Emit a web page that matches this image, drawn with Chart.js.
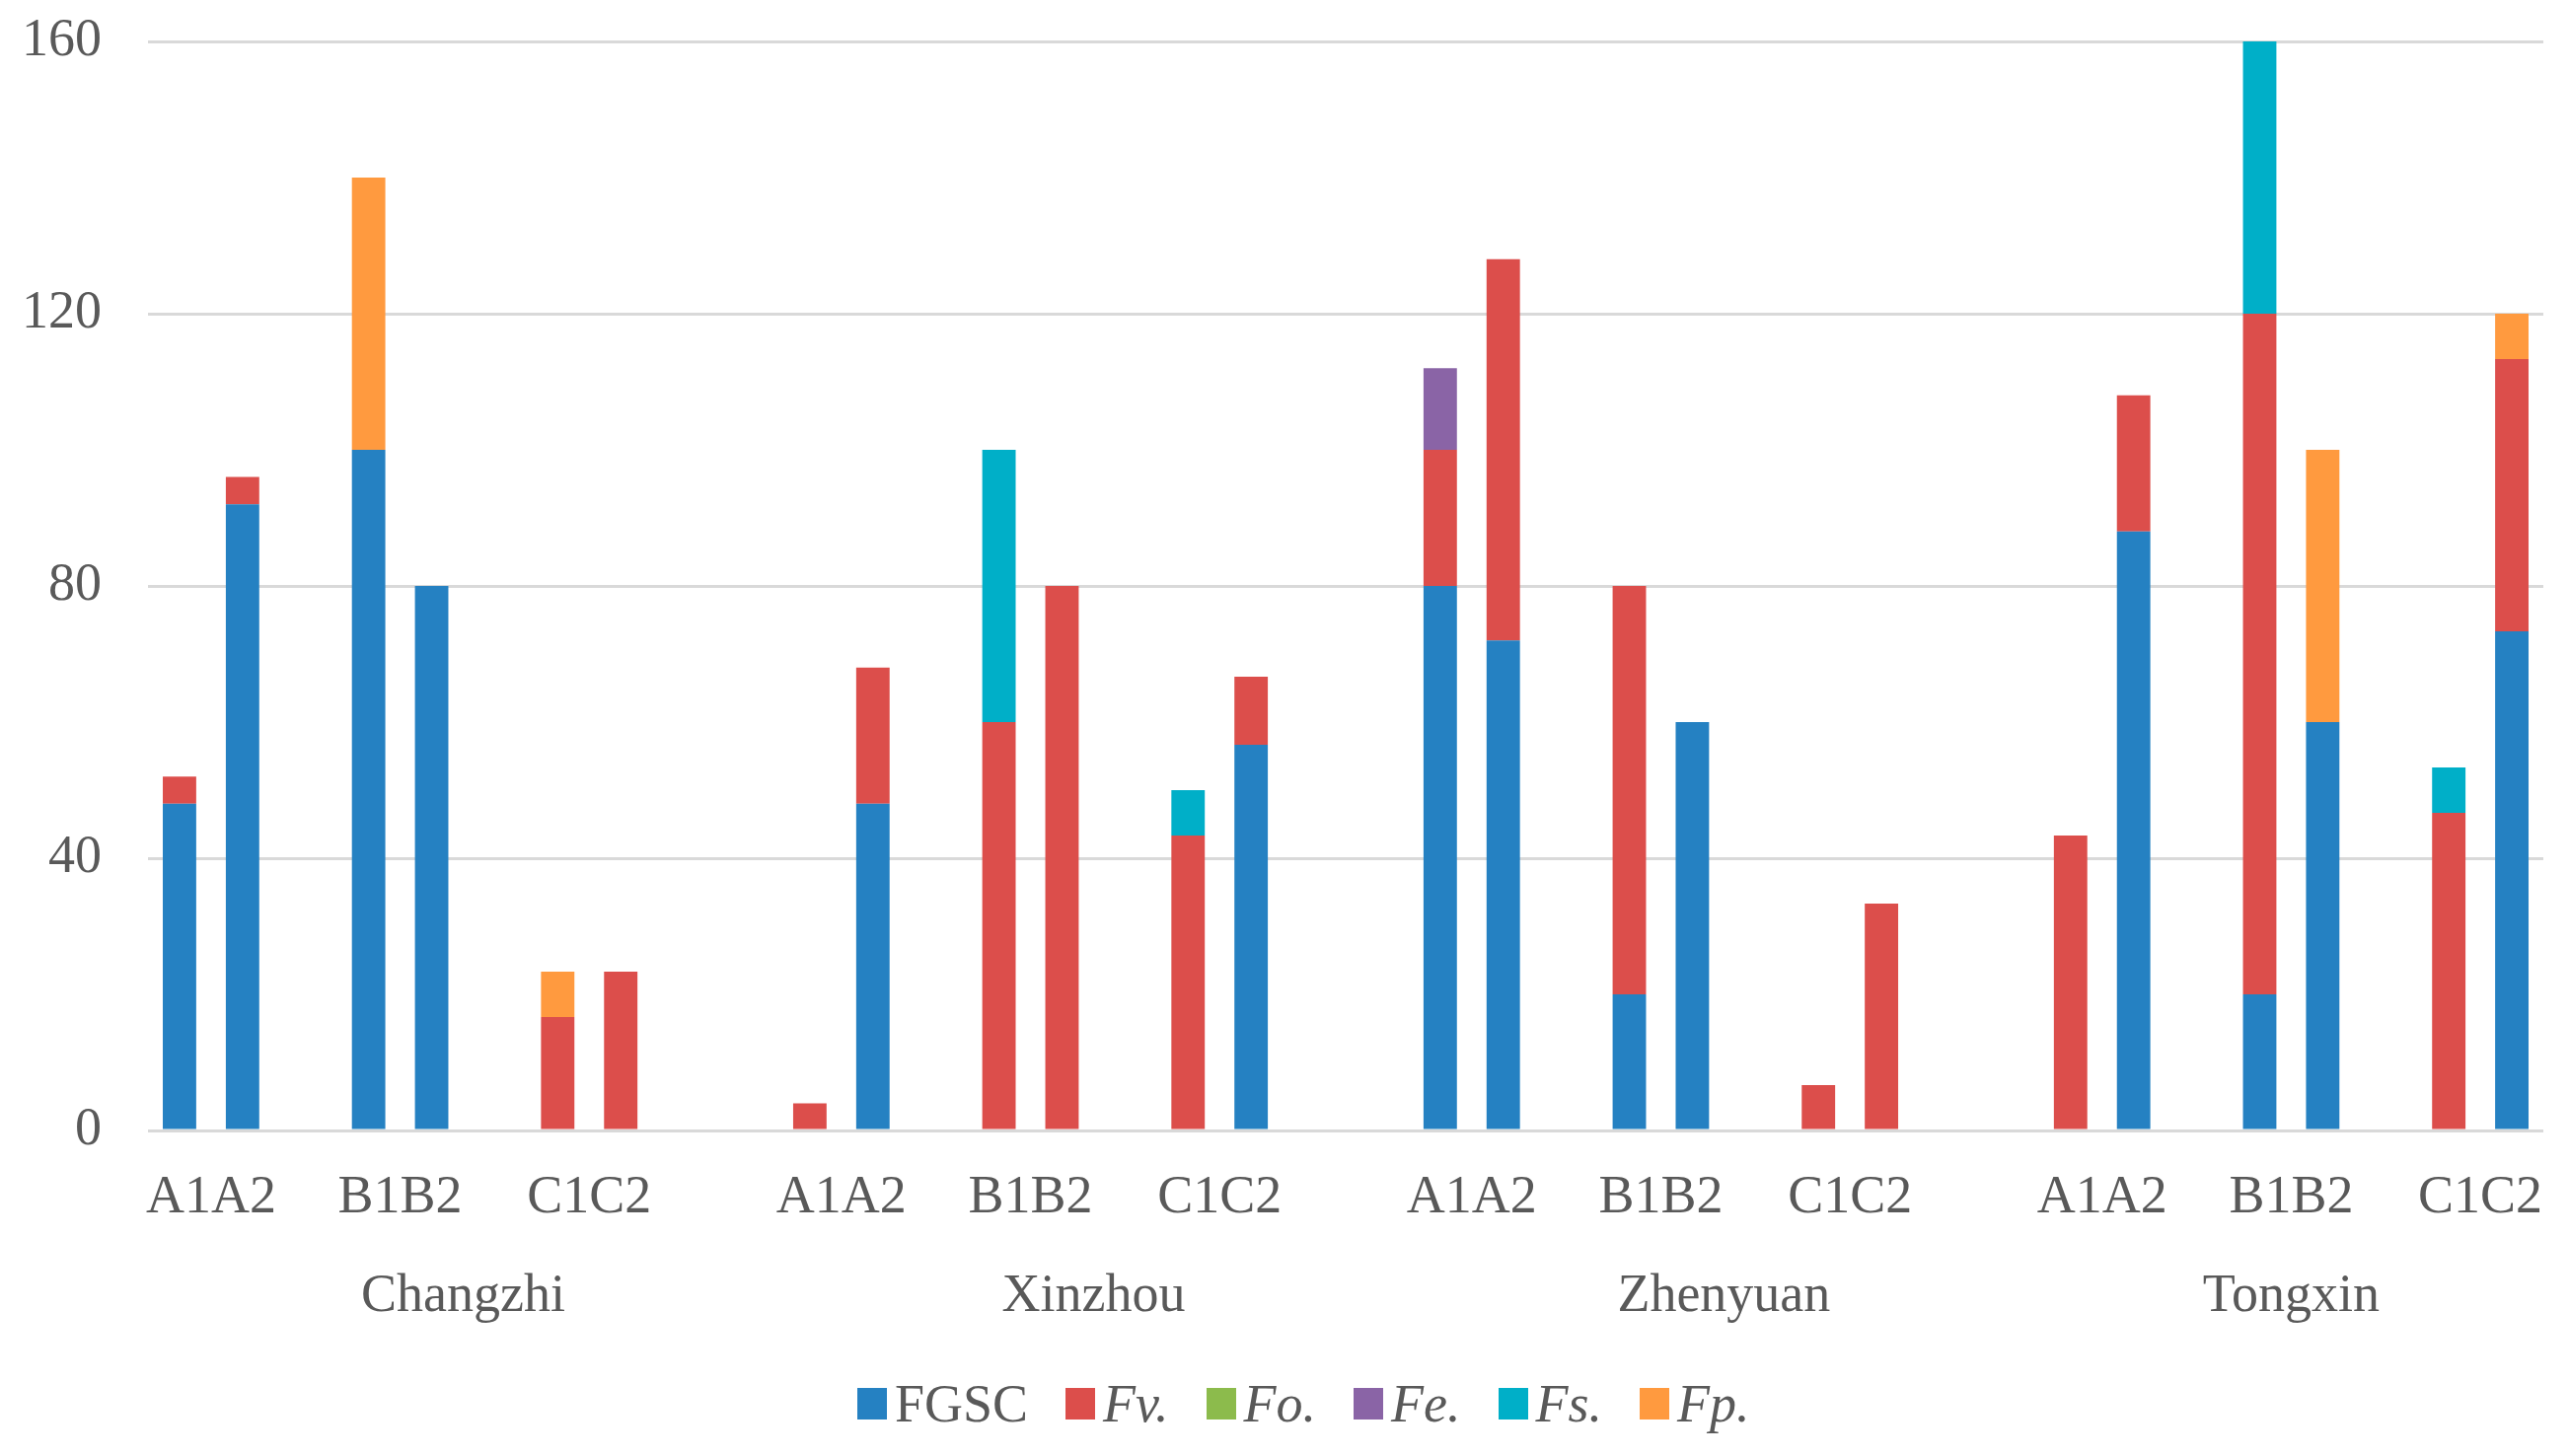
<!DOCTYPE html>
<html>
<head>
<meta charset="utf-8">
<script src="https://cdn.jsdelivr.net/npm/chart.js@4.4.0/dist/chart.umd.min.js"></script>
<style>
  html, body { margin: 0; padding: 0; background: #ffffff; }
  #wrap { position: relative; width: 2604px; height: 1476px; }
  #c { display: block; }
  #legend {
    position: absolute; left: 869px; top: 1396px;
    display: flex; align-items: center;
    font-family: "Liberation Serif", "Times New Roman", serif;
    font-size: 54px; line-height: 1; color: #595959;
  }
  .item { display: flex; align-items: center; margin-right: 38px; }
  .box { width: 30px; height: 32px; margin-right: 8px; }
</style>
</head>
<body>
<div id="wrap">
  <canvas id="c" width="2604" height="1476"></canvas>
  <div id="legend"></div>
</div>
<script>
// ---- data (bar order per location: A1, A2, B1, B2, C1, C2) ----
const locations = ['Changzhi', 'Xinzhou', 'Zhenyuan', 'Tongxin'];
const pairLabels = ['A1A2', 'B1B2', 'C1C2'];
const seriesNames = ['FGSC', 'Fv.', 'Fo.', 'Fe.', 'Fs.', 'Fp.'];
const seriesItalic = [false, true, true, true, true, true];
const seriesColors = ['#2581C2', '#DC4E4B', '#8CBB4C', '#8A64A6', '#00AFC8', '#FF9A3F'];

const FGSC = [48, 92, 100, 80, 0, 0,   0, 48, 0, 0, 0, 56.67,   80, 72, 20, 60, 0, 0,   0, 88, 20, 60, 0, 73.33];
const Fv   = [4, 4, 0, 0, 16.67, 23.33,   4, 20, 60, 80, 43.33, 10,   20, 56, 60, 0, 6.67, 33.33,   43.33, 20, 100, 0, 46.67, 40];
const Fo   = [0, 0, 0, 0, 0, 0,   0, 0, 0, 0, 0, 0,   0, 0, 0, 0, 0, 0,   0, 0, 0, 0, 0, 0];
const Fe   = [0, 0, 0, 0, 0, 0,   0, 0, 0, 0, 0, 0,   12, 0, 0, 0, 0, 0,   0, 0, 0, 0, 0, 0];
const Fs   = [0, 0, 0, 0, 0, 0,   0, 0, 40, 0, 6.67, 0,   0, 0, 0, 0, 0, 0,   0, 0, 40, 0, 6.67, 0];
const Fp   = [0, 0, 40, 0, 6.67, 0,   0, 0, 0, 0, 0, 0,   0, 0, 0, 0, 0, 0,   0, 0, 0, 40, 0, 6.67];
const yTicks = [0, 40, 80, 120, 160];

const seriesValues = [FGSC, Fv, Fo, Fe, Fs, Fp];

// ---- build category slots (bars with blank gap slots between groups) ----
const slots = [];          // bar index or null (gap)
const pairCenters = [];
const locCenters = [];
locations.forEach((loc, li) => {
  const start = slots.length;
  pairLabels.forEach((p, pi) => {
    const b = li * 6 + pi * 2;
    pairCenters.push(slots.length + 0.5);
    slots.push(b, b + 1);
    const lastOfAll = (li === locations.length - 1 && pi === pairLabels.length - 1);
    if (!lastOfAll) slots.push(null);
  });
  if (li < locations.length - 1) slots.push(null);
  locCenters.push((start + slots.length - 1) / 2);
});
const catLabels = slots.map((b, i) => 's' + i);

const datasets = seriesNames.map((name, si) => ({
  label: name,
  data: slots.map(b => (b === null || seriesValues[si][b] === 0) ? null : seriesValues[si][b]),
  backgroundColor: seriesColors[si],
  borderWidth: 0,
  barPercentage: 0.53,
  categoryPercentage: 1.0
}));

const FONT = '"Liberation Serif", "Times New Roman", serif';
const TXT = '#595959';

function labelAxis(weight, centers, labels, padding, height) {
  return {
    type: 'linear', position: 'bottom', weight: weight,
    offset: false, bounds: 'data',
    min: -0.5, max: slots.length - 0.5,
    grid: { display: false, drawTicks: false, offset: false },
    border: { display: false },
    afterBuildTicks: s => { s.ticks = centers.map(v => ({ value: v })); },
    afterFit: s => { s.height = height; s.paddingLeft = 0; s.paddingRight = 0; },
    ticks: {
      autoSkip: false, maxRotation: 0, minRotation: 0, padding: padding,
      font: { family: FONT, size: 54 }, color: TXT,
      callback: (v, i) => labels[i]
    }
  };
}
const pairTickLabels = locations.flatMap(() => pairLabels);

new Chart(document.getElementById('c'), {
  type: 'bar',
  data: { labels: catLabels, datasets },
  options: {
    responsive: false,
    devicePixelRatio: 1,
    animation: false,
    layout: { padding: { left: 22, right: 26, top: 42, bottom: 130 } },
    plugins: { legend: { display: false }, tooltip: { enabled: false } },
    scales: {
      x: { type: 'category', stacked: true, display: false, weight: 0,
           afterFit: s => { s.height = 0; s.paddingLeft = 0; s.paddingRight = 0; } },
      xPairs: labelAxis(1, pairCenters, pairTickLabels, 36, 100),
      xLoc: labelAxis(2, locCenters, locations, 36, 100),
      y: {
        stacked: true, min: 0, max: 160,
        afterBuildTicks: s => { s.ticks = yTicks.map(v => ({ value: v })); },
        afterFit: s => { s.width = 128; s.paddingTop = 0; s.paddingBottom = 0; },
        grid: { color: '#D9D9D9', lineWidth: 3, drawTicks: false },
        border: { display: false },
        ticks: { padding: 47, font: { family: FONT, size: 54 }, color: TXT }
      }
    }
  }
});

// ---- HTML legend (allows italic species names) ----
const legend = document.getElementById('legend');
seriesNames.forEach((name, i) => {
  const item = document.createElement('div');
  item.className = 'item';
  if (i === seriesNames.length - 1) item.style.marginRight = '0';
  const box = document.createElement('div');
  box.className = 'box';
  box.style.background = seriesColors[i];
  const txt = document.createElement('span');
  txt.textContent = name;
  if (seriesItalic[i]) txt.style.fontStyle = 'italic';
  item.appendChild(box); item.appendChild(txt);
  legend.appendChild(item);
});
</script>
</body>
</html>
